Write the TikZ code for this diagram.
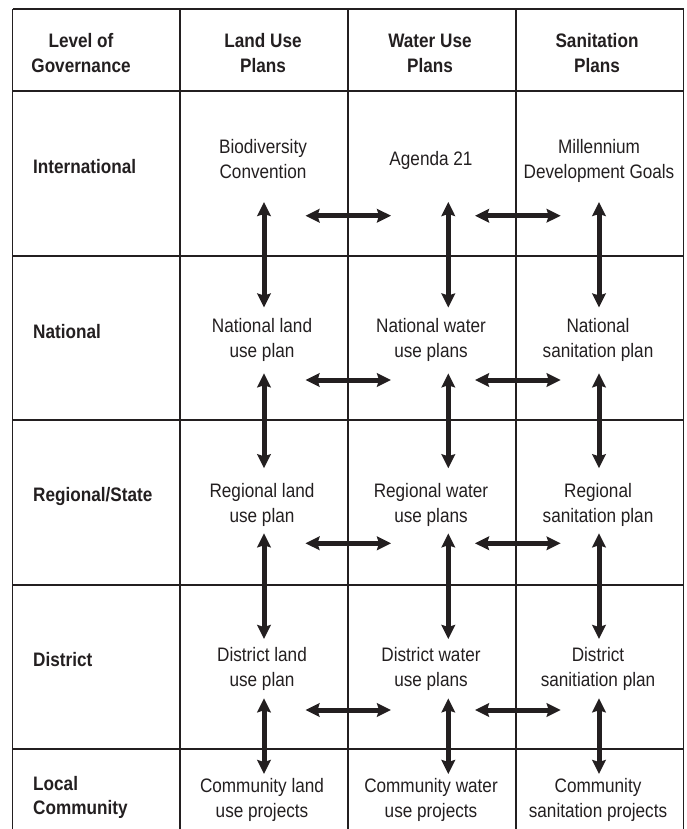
\documentclass[tikz,border=0pt]{standalone}
\usepackage{fontspec}
\setmainfont{Liberation Sans}[FakeStretch=0.88]
\usetikzlibrary{arrows.meta}
\definecolor{ink}{HTML}{231F20}
\newcommand{\cellc}[1]{\begin{tabular}[t]{@{}c@{}}#1\end{tabular}}
\newcommand{\celll}[1]{\begin{tabular}[t]{@{}l@{}}#1\end{tabular}}
\tikzset{
  grid/.style={line width=1.8pt, draw=ink},
  txt/.style={anchor=base, inner sep=0pt, text=ink, font=\fontsize{19.5}{24.8}\selectfont},
  hdr/.style={txt, font=\fontsize{19.5}{24.8}\selectfont\bfseries},
  lbl/.style={anchor=base west, inner sep=0pt, text=ink, font=\fontsize{19.5}{24.8}\selectfont\bfseries},
  link/.style={line width=5pt, draw=ink, {Stealth[length=14pt,width=13.5pt,inset=2pt]}-{Stealth[length=14pt,width=13.5pt,inset=2pt]}}
}
\begin{document}
\begin{tikzpicture}[x=1pt,y=-1pt]
\useasboundingbox (0,0) rectangle (686,829);
% grid
\foreach \xx in {12.5,180,347.7,515.7,683.5} \draw[grid] (\xx,9.3) -- (\xx,829);
\foreach \yy in {9.3,91,255.7,420.3,584.7,749} \draw[grid] (12.5,\yy) -- (683.5,\yy);
% header
\node[hdr] (h0) at (81,48) {\cellc{Level of\\Governance}};
\node[hdr] (h1) at (263,48) {\cellc{Land Use\\Plans}};
\node[hdr] (h2) at (430,48) {\cellc{Water Use\\Plans}};
\node[hdr] (h3) at (597,48) {\cellc{Sanitation\\Plans}};
% row labels
\node[lbl] (r1) at (33,173.3) {International};
\node[lbl] (r2) at (33,338) {National};
\node[lbl] (r3) at (33,501.7) {Regional/State};
\node[lbl] (r4) at (33,666.7) {District};
\node[lbl] (r5) at (33,790) {\celll{Local\\Community}};
% cells
\node[txt] (l1) at (263,154) {\cellc{Biodiversity\\Convention}};
\node[txt] (w1) at (431,165.7) {Agenda 21};
\node[txt] (s1) at (599,154) {\cellc{Millennium\\Development Goals}};
\node[txt] (l2) at (262,332.7) {\cellc{National land\\use plan}};
\node[txt] (w2) at (431,332.7) {\cellc{National water\\use plans}};
\node[txt] (s2) at (598,332.7) {\cellc{National\\sanitation plan}};
\node[txt] (l3) at (262,497.3) {\cellc{Regional land\\use plan}};
\node[txt] (w3) at (431,497.3) {\cellc{Regional water\\use plans}};
\node[txt] (s3) at (598,497.3) {\cellc{Regional\\sanitation plan}};
\node[txt] (l4) at (262,661.7) {\cellc{District land\\use plan}};
\node[txt] (w4) at (431,661.7) {\cellc{District water\\use plans}};
\node[txt] (s4) at (598,661.7) {\cellc{District\\sanitiation plan}};
\node[txt] (l5) at (262,792.7) {\cellc{Community land\\use projects}};
\node[txt] (w5) at (431,792.7) {\cellc{Community water\\use projects}};
\node[txt] (s5) at (598,792.7) {\cellc{Community\\sanitation projects}};
% arrow end points
\foreach \c/\xx in {L/264,W/448.3,S/599}{
  \foreach \k/\ya/\yb in {1/202/307.5,2/373.3/468.3,3/533.3/639,4/698.3/774}{
    \coordinate (v\c\k a) at (\xx,\ya);
    \coordinate (v\c\k b) at (\xx,\yb);
  }
}
\foreach \k/\yy in {1/215.7,2/380,3/543.3,4/710}{
  \coordinate (hA\k a) at (305.5,\yy);
  \coordinate (hA\k b) at (391,\yy);
  \coordinate (hB\k a) at (475,\yy);
  \coordinate (hB\k b) at (560.7,\yy);
}
% arrows
\foreach \c in {L,W,S}{
  \foreach \k in {1,2,3,4}{
    \draw[link] (v\c\k a) -- (v\c\k b);
  }
}
\foreach \k in {1,2,3,4}{
  \draw[link] (hA\k a) -- (hA\k b);
  \draw[link] (hB\k a) -- (hB\k b);
}
\end{tikzpicture}
\end{document}
